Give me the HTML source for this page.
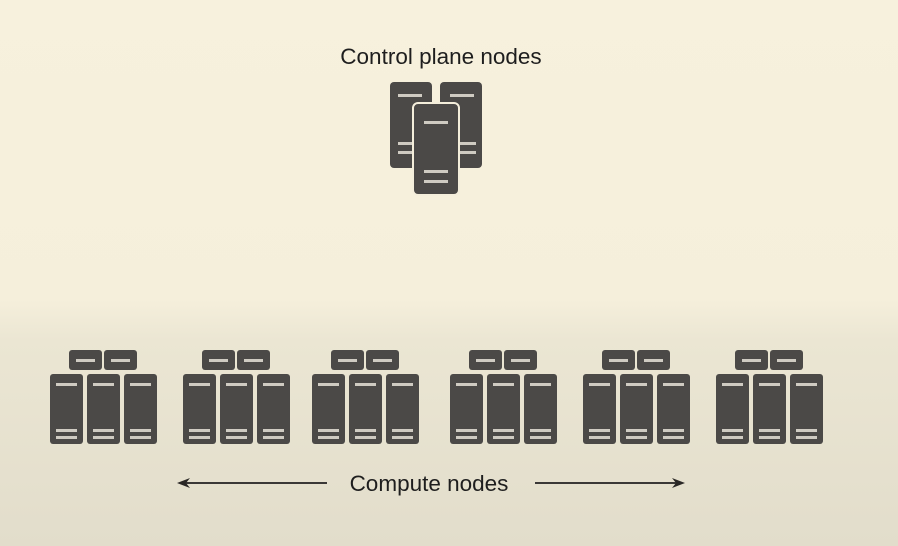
<!DOCTYPE html>
<html><head><style>
html,body{margin:0;padding:0;width:898px;height:546px;overflow:hidden}
body{background:linear-gradient(180deg,#f7f1dd 0px,#f5efdb 300px,#ebe6d3 340px,#e2ddcb 546px)}
svg{position:absolute;left:0;top:0}
text{font-family:"Liberation Sans",sans-serif;fill:#1e1e1e}
</style></head><body>
<svg width="898" height="546" viewBox="0 0 898 546">
<defs>
<g id="cs">
 <rect x="0" y="0" width="33" height="70" rx="3" fill="#4b4947"/>
 <rect x="6" y="9" width="21" height="3" fill="#cfcbc2"/>
 <rect x="6" y="55" width="21" height="3" fill="#cfcbc2"/>
 <rect x="6" y="62" width="21" height="3" fill="#cfcbc2"/>
</g>
<g id="ct">
 <rect x="0" y="0" width="33" height="20" rx="3" fill="#4b4947"/>
 <rect x="7" y="9" width="19" height="3" fill="#cfcbc2"/>
</g>
<g id="grp">
 <use href="#ct" x="19" y="350"/>
 <use href="#ct" x="54" y="350"/>
 <use href="#cs" x="0" y="374"/>
 <use href="#cs" x="37" y="374"/>
 <use href="#cs" x="74" y="374"/>
</g>
</defs>
<text x="441" y="64" font-size="22.5" text-anchor="middle">Control plane nodes</text>
<rect x="390" y="82" width="42" height="86" rx="4" fill="#4b4947"/>
<rect x="398" y="94" width="24" height="3" fill="#cfcbc2"/>
<rect x="398" y="142" width="18" height="3" fill="#cfcbc2"/>
<rect x="398" y="151" width="18" height="3" fill="#cfcbc2"/>
<rect x="440" y="82" width="42" height="86" rx="4" fill="#4b4947"/>
<rect x="450" y="94" width="24" height="3" fill="#cfcbc2"/>
<rect x="458" y="142" width="18" height="3" fill="#cfcbc2"/>
<rect x="458" y="151" width="18" height="3" fill="#cfcbc2"/>
<rect x="413" y="103" width="46" height="92" rx="5" fill="#4b4947" stroke="#f4eedb" stroke-width="2"/>
<rect x="424" y="121" width="24" height="3" fill="#cfcbc2"/>
<rect x="424" y="170" width="24" height="3" fill="#cfcbc2"/>
<rect x="424" y="180" width="24" height="3" fill="#cfcbc2"/>
<use href="#grp" x="50"/>
<use href="#grp" x="183"/>
<use href="#grp" x="312"/>
<use href="#grp" x="450"/>
<use href="#grp" x="583"/>
<use href="#grp" x="716"/>
<line x1="182" y1="483" x2="327" y2="483" stroke="#3a3836" stroke-width="2"/>
<polygon points="177,483 190,478 186,483 190,488" fill="#2a2826"/>
<line x1="535" y1="483" x2="680" y2="483" stroke="#3a3836" stroke-width="2"/>
<polygon points="685,483 672,478 676,483 672,488" fill="#2a2826"/>
<text x="429" y="491" font-size="22.5" text-anchor="middle">Compute nodes</text>
</svg>
</body></html>
